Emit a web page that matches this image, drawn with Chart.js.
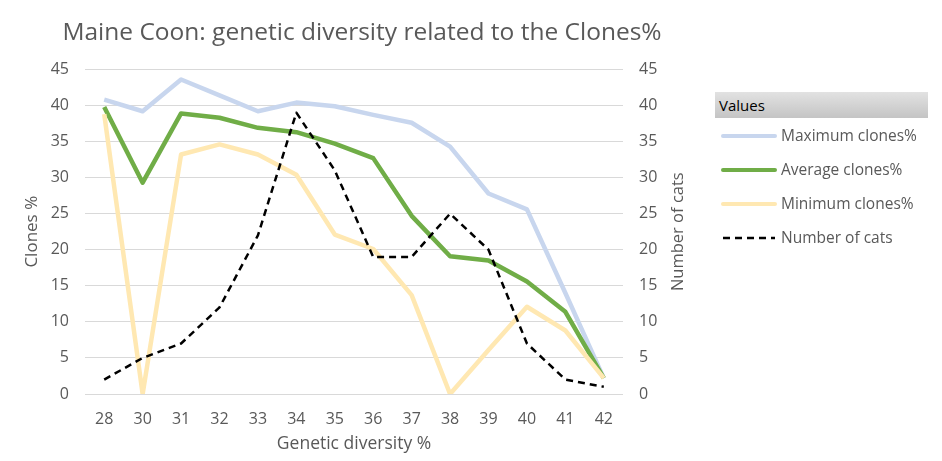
<!DOCTYPE html>
<html>
<head>
<meta charset="utf-8">
<title>Maine Coon clones</title>
<script src="https://cdn.jsdelivr.net/npm/chart.js@4.4.1/dist/chart.umd.min.js"></script>
<style>
  body { margin: 0; background: #fff; }
  #wrap { position: relative; width: 942px; height: 461px; }
  #legend { position: absolute; left: 715px; top: 92px; width: 213px; font-family: 'Open Sans', sans-serif; }
  #legend .head { height: 26px; line-height: 26px; padding-left: 4px; font-size: 15px; color: #000;
    background: linear-gradient(#e2e2e2, #c4c4c4); }
  #legend .item { position: relative; height: 34px; line-height: 34px; font-size: 15.5px; color: #595959; }
  #legend .item svg { position: absolute; left: 6px; top: 15px; }
  #legend .item span { position: absolute; left: 66px; top: 0; white-space: nowrap; }
</style>
</head>
<body>
<div id="wrap">
  <canvas id="chart" width="942" height="461"></canvas>
  <div id="legend"></div>
</div>
<script>
// categories (genetic diversity %)
const diversity = ['28', '30', '31', '32', '33', '34', '35', '36', '37', '38', '39', '40', '41', '42'];

// clones % series (left axis)
const maxClones = [40.8, 39.2, 43.6, 41.4, 39.2, 40.4, 39.9, 38.7, 37.6, 34.3, 27.8, 25.6, 14.0, 2.2];
const avgClones = [39.8, 29.3, 38.9, 38.3, 36.9, 36.3, 34.7, 32.7, 24.7, 19.1, 18.5, 15.6, 11.4, 2.2];
const minClones = [38.8, 0, 33.2, 34.6, 33.2, 30.4, 22.1, 20.1, 13.7, 0, 6.1, 12.1, 8.8, 2.2];

// number of cats (right axis)
const cats = [2, 5, 7, 12, 22, 39, 31, 19, 19, 25, 20, 7, 2, 1];

const axisTicks = [0, 5, 10, 15, 20, 25, 30, 35, 40, 45];

const FONT = "'Open Sans', sans-serif";
const GREY = '#595959';

const data = {
  labels: diversity,
  datasets: [
    { label: 'Maximum clones%', data: maxClones, borderColor: '#c8d6ee', borderWidth: 4.5, yAxisID: 'y', order: 4 },
    { label: 'Average clones%', data: avgClones, borderColor: '#70ad47', borderWidth: 4.5, yAxisID: 'y', order: 3 },
    { label: 'Minimum clones%', data: minClones, borderColor: '#ffe8b2', borderWidth: 4.5, yAxisID: 'y', order: 2 },
    { label: 'Number of cats', data: cats, borderColor: '#000000', borderWidth: 2.5, borderDash: [7, 5], yAxisID: 'y1', order: 1 }
  ]
};

// right axis title reads bottom-to-top, so draw it ourselves
const rightTitle = {
  id: 'rightTitle',
  afterDraw(chart) {
    const ctx = chart.ctx;
    const s = chart.scales.y1;
    ctx.save();
    ctx.font = '16.5px ' + FONT;
    ctx.fillStyle = GREY;
    ctx.textAlign = 'center';
    ctx.textBaseline = 'middle';
    ctx.translate(s.left + 55, (chart.chartArea.top + chart.chartArea.bottom) / 2);
    ctx.rotate(-Math.PI / 2);
    ctx.fillText('Number of cats', 0, 0);
    ctx.restore();
  }
};

const yTicks = {
  color: GREY, font: { family: FONT, size: 16 }, padding: 16,
  stepSize: 5, callback: v => axisTicks.includes(v) ? v : null
};

const config = {
  type: 'line',
  data: data,
  options: {
    responsive: false,
    animation: false,
    layout: { padding: { left: 0, right: 218, top: 0, bottom: 0 } },
    elements: {
      point: { radius: 0 },
      line: { tension: 0, borderJoinStyle: 'round', fill: false }
    },
    scales: {
      x: {
        offset: true,
        grid: { display: false, drawTicks: false },
        border: { display: false },
        ticks: { color: GREY, font: { family: FONT, size: 16 }, padding: 16 },
        title: { display: true, text: 'Genetic diversity %', color: GREY, font: { family: FONT, size: 17.5 }, padding: { top: 0, bottom: 6 } },
        afterFit(s) { s.height = 67; }
      },
      y: {
        position: 'left', min: 0, max: 45,
        grid: { color: '#d9d9d9', lineWidth: 1, drawTicks: false },
        border: { display: false },
        ticks: yTicks,
        title: { display: true, text: 'Clones %', color: GREY, font: { family: FONT, size: 17 }, padding: { top: 22, bottom: 0 } },
        afterFit(s) { s.width = 85; }
      },
      y1: {
        position: 'right', min: 0, max: 45,
        grid: { display: false, drawTicks: false },
        border: { display: false },
        ticks: yTicks,
        afterFit(s) { s.width = 101; }
      }
    },
    plugins: {
      legend: { display: false },
      tooltip: { enabled: false },
      title: {
        display: true,
        text: 'Maine Coon: genetic diversity related to the Clones%',
        color: GREY,
        font: { family: FONT, size: 24.5, weight: 'normal' },
        padding: { top: 18, bottom: 22 }
      }
    }
  },
  plugins: [rightTitle]
};

const myChart = new Chart(document.getElementById('chart'), config);

// legend in HTML, built from the datasets
const legend = document.getElementById('legend');
let html = '<div class="head">Values</div>';
data.datasets.forEach(ds => {
  const dash = ds.borderDash ? 'stroke-dasharray="' + ds.borderDash.join(' ') + '"' : '';
  html += '<div class="item"><svg width="56" height="6"><line x1="2" y1="3" x2="54" y2="3" stroke="' + ds.borderColor +
    '" stroke-width="' + (ds.borderDash ? 2.5 : 4) + '" stroke-linecap="' + (ds.borderDash ? 'butt' : 'round') + '" ' + dash + '/></svg>' +
    '<span>' + ds.label + '</span></div>';
});
legend.innerHTML = html;
</script>
</body>
</html>
